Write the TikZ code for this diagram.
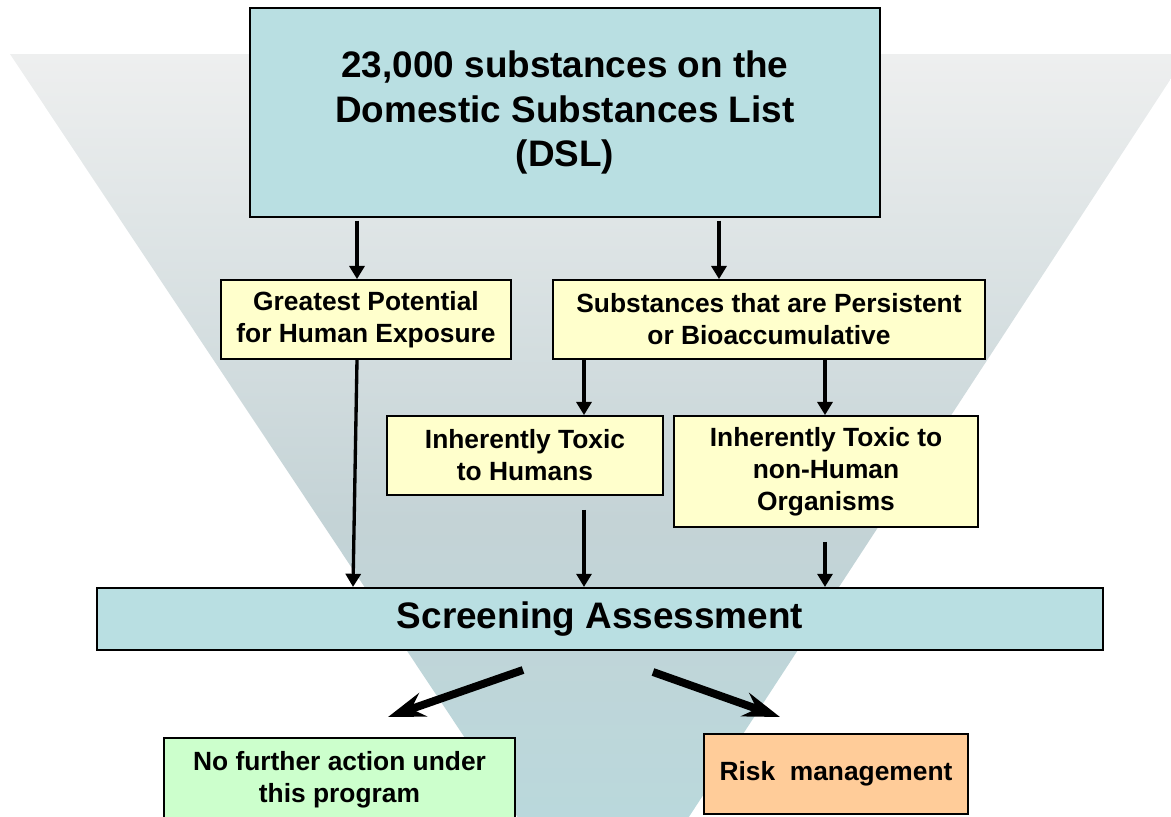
\documentclass[tikz,border=0pt]{standalone}
\usepackage{fontspec}
\setmainfont{Liberation Sans}
\usepackage{xcolor}
\usetikzlibrary{arrows.meta}

\definecolor{dslblue}{RGB}{185,223,226}
\definecolor{noteyellow}{RGB}{255,255,204}
\definecolor{nogreen}{RGB}{204,255,204}
\definecolor{riskorange}{RGB}{255,204,153}
\definecolor{funneltop}{RGB}{238,239,239}
\definecolor{funnelmid}{RGB}{196,211,214}
\definecolor{funnelbot}{RGB}{180,219,223}

\begin{document}
\begin{tikzpicture}[x=0.02cm,y=-0.02cm,
  bigbox/.style={draw,line width=1.2pt,fill=dslblue,align=center,inner sep=0pt,
    font=\bfseries\fontsize{21}{25.5}\selectfont},
  smallbox/.style={draw,line width=1pt,fill=noteyellow,align=center,inner sep=0pt,
    font=\bfseries\fontsize{15}{18.2}\selectfont},
  arr/.style={line width=1.9pt,-{Triangle[length=7.5pt,width=8.5pt]}},
  bigarr/.style={line width=4.5pt,-{Stealth[length=21pt,width=14pt,inset=7pt]}}]

\useasboundingbox (0,0) rectangle (1171,816);

% funnel behind everything
\begin{scope}
  \clip (10,54) -- (1187,54) -- (604,947) -- cycle;
  \shade[top color=funneltop,bottom color=funnelbot,middle color=funnelmid]
    (0,54) rectangle (1200,986);
\end{scope}

% boxes
\node[bigbox,minimum width=12.6cm,minimum height=4.18cm] (dsl) at (565,112.5)
  {23,000 substances on the\\Domestic Substances List\\(DSL)};
\node[smallbox,minimum width=5.8cm,minimum height=1.58cm] (gpe) at (366,319.5)
  {Greatest Potential\\for Human Exposure};
\node[smallbox,minimum width=8.64cm,minimum height=1.58cm] (pba) at (769,319.5)
  {Substances that are Persistent\\or Bioaccumulative};
\node[smallbox,minimum width=5.52cm,minimum height=1.58cm] (ith) at (525,455.5)
  {Inherently Toxic\\to Humans};
\node[smallbox,minimum width=6.08cm,minimum height=2.22cm] (ito) at (826,471.5)
  {Inherently Toxic to\\non-Human\\Organisms};
\node[bigbox,minimum width=20.12cm,minimum height=1.24cm] (scr) at (600,619)
  {Screening Assessment};
\node[smallbox,fill=nogreen,minimum width=7.02cm,minimum height=1.68cm] (nfa) at (339.5,780)
  {No further action under\\this program};
\node[smallbox,fill=riskorange,minimum width=5.28cm,minimum height=1.6cm] (rm) at (836,774)
  {Risk~~management};

% thin arrows
\draw[arr,shorten <=1.5pt] (dsl.south -| 357,0) -- (gpe.north -| 357,0);
\draw[arr,shorten <=1.5pt] (dsl.south -| 719,0) -- (pba.north -| 719,0);
\draw[arr] (gpe.south -| 357,0) -- (scr.north -| 353,0);
\draw[arr] (pba.south -| 584,0) -- (ith.north -| 584,0);
\draw[arr] (pba.south -| 825,0) -- (ito.north -| 825,0);
\draw[arr,shorten <=8pt] (ith.south -| 584,0) -- (scr.north -| 584,0);
\draw[arr,shorten <=8pt] (ito.south -| 825,0) -- (scr.north -| 825,0);

% outcome arrows
\coordinate (forkl) at (523,670);
\coordinate (forkr) at (653,672);
\coordinate (tipl) at (388,717);
\coordinate (tipr) at (780,717);
\draw[bigarr] (forkl) -- (tipl);
\draw[bigarr] (forkr) -- (tipr);
\end{tikzpicture}
\end{document}
